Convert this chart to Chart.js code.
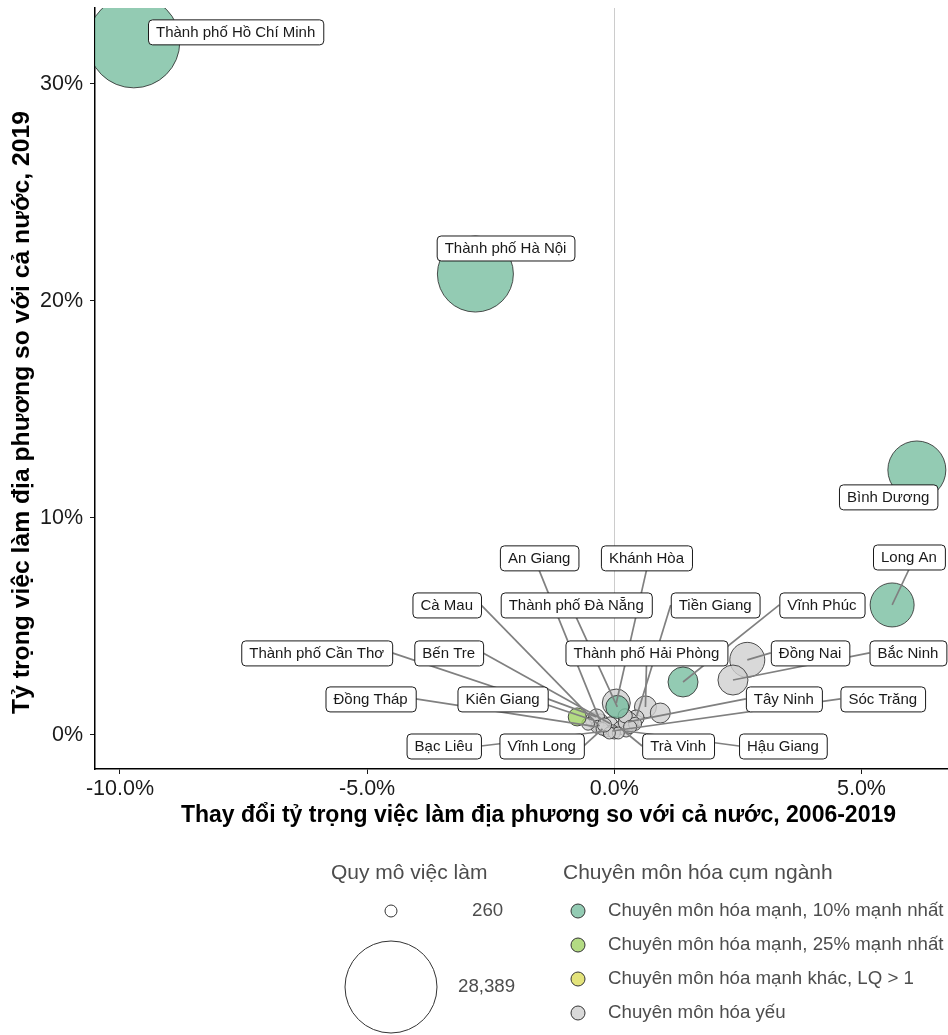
<!DOCTYPE html>
<html>
<head>
<meta charset="utf-8">
<script src="https://cdn.jsdelivr.net/npm/chart.js@4.4.1/dist/chart.umd.min.js"></script>
<style>
  html, body { margin: 0; padding: 0; background: #ffffff; }
  #wrap { width: 948px; height: 1035px; position: relative; }
</style>
</head>
<body>
<div id="wrap"><canvas id="chart" width="948" height="1035"></canvas></div>
<script>
// Provinces in the cluster
const provinces = [
  'Thành phố Hồ Chí Minh', 'Thành phố Hà Nội', 'Bình Dương', 'Long An', 'Đồng Nai',
  'Bắc Ninh', 'Vĩnh Phúc', 'Thành phố Hải Phòng', 'Khánh Hòa', 'Thành phố Đà Nẵng',
  'Tiền Giang', 'An Giang', 'Cà Mau', 'Bến Tre', 'Thành phố Cần Thơ',
  'Kiên Giang', 'Đồng Tháp', 'Bạc Liêu', 'Vĩnh Long', 'Trà Vinh',
  'Hậu Giang', 'Sóc Trăng', 'Tây Ninh',
  '', '', '', '', '', '', '', '', '', ''
];
// Change in local share of national employment, 2006-2019 (%)
const shareChange = [
  -9.72, -2.81, 6.12, 5.62, 2.69,
  2.40, 1.39, 0.63, 0.04, 0.06,
  0.44, -0.28, -0.30, -0.08, -0.44,
  -0.36, -0.34, -0.16, -0.24, 0.12,
  0.24, -0.04, 0.28,
  -0.75, 0.93, 0.22, 0.42, 0.00, 0.08, -0.10, 0.32, -0.53, -0.20
];
// Local share of national employment, 2019 (%)
const share2019 = [
  31.94, 21.24, 12.21, 5.99, 3.46,
  2.53, 2.44, 1.29, 1.47, 1.29,
  0.78, 0.60, 0.41, 0.51, 0.69,
  0.83, 0.37, 0.18, 0.28, 0.32,
  0.18, 0.18, 0.60,
  0.83, 1.01, 0.88, 0.51, 0.09, 0.09, 0.09, 0.37, 0.51, 0.46
];
// Employment in the cluster
const employment = [
  28389, 18260, 9560, 4760, 2585,
  1684, 1684, 700, 1385, 790,
  330, 330, 280, 280, 290,
  330, 265, 260, 262, 270,
  260, 261, 540,
  420, 540, 280, 265, 260, 260, 260, 265, 262, 280
];
// Specialisation group (index into groups)
const groupOf = [
  0, 0, 0, 0, 3,
  3, 0, 3, 3, 0,
  3, 3, 3, 3, 3,
  3, 3, 3, 3, 3,
  3, 3, 3,
  1, 3, 3, 3, 3, 3, 3, 3, 3, 3
];
const groups = [
  'Chuyên môn hóa mạnh, 10% mạnh nhất',
  'Chuyên môn hóa mạnh, 25% mạnh nhất',
  'Chuyên môn hóa mạnh khác, LQ > 1',
  'Chuyên môn hóa yếu'
];
// Repelled label anchors: [province, x, y] in data units
const labelAnchors = [
  ['Thành phố Hồ Chí Minh', -7.66, 32.40],
  ['Thành phố Hà Nội', -2.20, 22.44],
  ['Bình Dương', 5.54, 10.97],
  ['Long An', 5.96, 8.20],
  ['An Giang', -1.52, 8.16],
  ['Khánh Hòa', 0.65, 8.16],
  ['Cà Mau', -3.39, 5.99],
  ['Thành phố Đà Nẵng', -0.77, 5.99],
  ['Tiền Giang', 2.04, 5.99],
  ['Vĩnh Phúc', 4.20, 5.99],
  ['Thành phố Cần Thơ', -6.02, 3.78],
  ['Bến Tre', -3.35, 3.78],
  ['Thành phố Hải Phòng', 0.65, 3.78],
  ['Đồng Nai', 3.96, 3.78],
  ['Bắc Ninh', 5.94, 3.78],
  ['Đồng Tháp', -4.93, 1.66],
  ['Kiên Giang', -2.26, 1.66],
  ['Tây Ninh', 3.43, 1.66],
  ['Sóc Trăng', 5.43, 1.66],
  ['Bạc Liêu', -3.45, -0.51],
  ['Vĩnh Long', -1.47, -0.51],
  ['Trà Vinh', 1.29, -0.51],
  ['Hậu Giang', 3.41, -0.51]
];
const xTicks = [-10, -5, 0, 5];
const yTicks = [0, 10, 20, 30];
const sizeBreaks = [260, 28389];
const xTitle = 'Thay đổi tỷ trọng việc làm địa phương so với cả nước, 2006-2019';
const yTitle = 'Tỷ trọng việc làm địa phương so với cả nước, 2019';

// ---- styling ----
const FONT = '"Liberation Sans", Arial, Helvetica, sans-serif';
const groupFill = [
  'rgba(120,190,160,0.8)',
  'rgba(160,210,100,0.8)',
  'rgba(220,220,90,0.8)',
  'rgba(208,208,208,0.8)'
];
const radiusRange = [6, 46];
function bubbleRadius(v) {
  const t = Math.max(0, (v - sizeBreaks[0]) / (sizeBreaks[1] - sizeBreaks[0]));
  return radiusRange[0] + (radiusRange[1] - radiusRange[0]) * Math.sqrt(t);
}

const datasets = groups.map((g, gi) => ({
  label: g,
  data: provinces.map((p, i) => ({ x: shareChange[i], y: share2019[i], r: bubbleRadius(employment[i]), g: groupOf[i] }))
                 .filter(d => d.g === gi),
  backgroundColor: groupFill[gi],
  borderColor: 'rgba(40,40,40,0.9)',
  borderWidth: 0.9,
  hoverBorderWidth: 0.9,
  clip: 0
}));

// Repelled text labels with leader segments
const labelPlugin = {
  id: 'repelLabels',
  afterDatasetsDraw(chart) {
    const { ctx, scales: { x, y } } = chart;
    const fontPx = 15, padX = 8, boxH = 25;
    ctx.save();
    ctx.font = fontPx + 'px ' + FONT;
    const boxes = labelAnchors.map(([name, lx, ly]) => {
      const i = provinces.indexOf(name);
      const cx = x.getPixelForValue(lx), cy = y.getPixelForValue(ly);
      const w = ctx.measureText(name).width + 2 * padX;
      return { name, i, cx, cy, w, h: boxH, left: cx - w / 2, top: cy - boxH / 2 };
    });
    ctx.strokeStyle = '#808080';
    ctx.lineWidth = 1.7;
    boxes.forEach(b => {
      const px = x.getPixelForValue(shareChange[b.i]);
      const py = y.getPixelForValue(share2019[b.i]);
      const r = bubbleRadius(employment[b.i]);
      const nx = Math.min(Math.max(px, b.left), b.left + b.w);
      const ny = Math.min(Math.max(py, b.top), b.top + b.h);
      if (Math.hypot(px - nx, py - ny) < r) return;
      const cands = [[b.left, b.cy], [b.left + b.w, b.cy], [b.cx, b.top], [b.cx, b.top + b.h]];
      let best = cands[0], bd = Infinity;
      cands.forEach(c => { const d = Math.hypot(c[0] - px, c[1] - py); if (d < bd) { bd = d; best = c; } });
      ctx.beginPath();
      ctx.moveTo(px, py);
      ctx.lineTo(best[0], best[1]);
      ctx.stroke();
    });
    boxes.forEach(b => {
      ctx.beginPath();
      ctx.roundRect(b.left + 0.5, b.top + 0.5, b.w, b.h, 4);
      ctx.fillStyle = '#ffffff';
      ctx.fill();
      ctx.strokeStyle = '#1a1a1a';
      ctx.lineWidth = 1;
      ctx.stroke();
      ctx.fillStyle = '#1a1a1a';
      ctx.textAlign = 'center';
      ctx.textBaseline = 'middle';
      ctx.fillText(b.name, b.cx, b.cy + 1);
    });
    ctx.restore();
  }
};

// Axis titles, size key and colour key
const keyPlugin = {
  id: 'keys',
  afterDraw(chart) {
    const ctx = chart.ctx;
    const area = chart.chartArea;
    ctx.save();
    ctx.fillStyle = '#000000';
    ctx.textAlign = 'center';
    ctx.textBaseline = 'middle';
    ctx.font = 'bold 23px ' + FONT;
    ctx.fillText(xTitle, (area.left + area.right) / 2 + 17, area.bottom + 47);
    ctx.save();
    ctx.font = 'bold 24.7px ' + FONT;
    ctx.translate(22, (area.top + area.bottom) / 2 + 24);
    ctx.rotate(-Math.PI / 2);
    ctx.fillText(yTitle, 0, 0);
    ctx.restore();

    ctx.textBaseline = 'middle';
    ctx.textAlign = 'left';
    ctx.fillStyle = '#4d4d4d';
    ctx.font = '21px ' + FONT;
    ctx.fillText('Quy mô việc làm', 331, 873);
    ctx.fillText('Chuyên môn hóa cụm ngành', 563, 873);

    ctx.font = '18.7px ' + FONT;
    const sizeRows = [911, 987];
    sizeBreaks.forEach((v, k) => {
      const r = bubbleRadius(v);
      ctx.beginPath();
      ctx.arc(391, sizeRows[k], r, 0, Math.PI * 2);
      ctx.fillStyle = '#ffffff';
      ctx.fill();
      ctx.strokeStyle = '#333333';
      ctx.lineWidth = 1;
      ctx.stroke();
      ctx.fillStyle = '#4d4d4d';
      ctx.fillText(v.toLocaleString('en-US'), k === 0 ? 472 : 458, sizeRows[k]);
    });

    groups.forEach((g, gi) => {
      const yy = 911 + gi * 34;
      ctx.beginPath();
      ctx.arc(578, yy, 7, 0, Math.PI * 2);
      ctx.fillStyle = '#ffffff';
      ctx.fill();
      ctx.fillStyle = groupFill[gi];
      ctx.fill();
      ctx.strokeStyle = '#333333';
      ctx.lineWidth = 1;
      ctx.stroke();
      ctx.fillStyle = '#4d4d4d';
      ctx.fillText(g, 608, yy);
    });
    ctx.restore();
  }
};

new Chart(document.getElementById('chart'), {
  type: 'bubble',
  data: { datasets },
  options: {
    responsive: false,
    animation: false,
    events: [],
    layout: { autoPadding: false, padding: { top: 8, right: 0, bottom: 200, left: 0 } },
    plugins: { legend: { display: false }, tooltip: { enabled: false } },
    scales: {
      x: {
        type: 'linear',
        min: -10.505, max: 6.75,
        afterBuildTicks: s => { s.ticks = xTicks.map(v => ({ value: v })); },
        afterFit: s => { s.height = 66; s.paddingLeft = 0; s.paddingRight = 0; },
        ticks: {
          callback: v => v.toFixed(1) + '%',
          font: { family: FONT, size: 21.5 },
          color: '#1a1a1a',
          padding: 2,
          maxRotation: 0
        },
        grid: {
          drawOnChartArea: true,
          color: ctx => (ctx.tick && ctx.tick.value === 0 ? '#cccccc' : 'rgba(0,0,0,0)'),
          tickColor: '#1a1a1a',
          tickLength: 5,
          lineWidth: 1
        },
        border: { display: true, color: '#000000', width: 1.5 },
        title: { display: false }
      },
      y: {
        type: 'linear',
        min: -1.57, max: 33.5,
        afterBuildTicks: s => { s.ticks = yTicks.map(v => ({ value: v })); },
        afterFit: s => { s.width = 95; s.paddingTop = 0; s.paddingBottom = 0; },
        ticks: {
          callback: v => v + '%',
          font: { family: FONT, size: 21.5 },
          color: '#1a1a1a',
          padding: 7
        },
        grid: {
          drawOnChartArea: false,
          tickColor: '#1a1a1a',
          tickLength: 5
        },
        border: { display: true, color: '#000000', width: 1.5 },
        title: { display: false }
      }
    }
  },
  plugins: [labelPlugin, keyPlugin]
});
</script>
</body>
</html>
